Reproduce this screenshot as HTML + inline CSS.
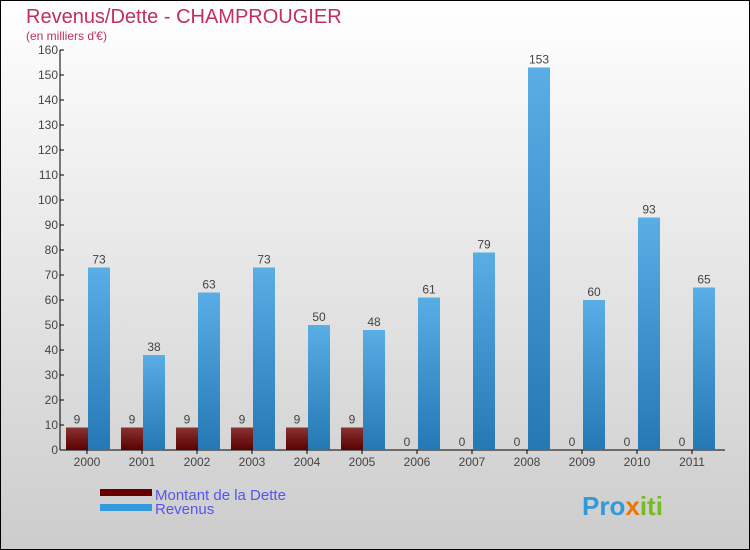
<!DOCTYPE html>
<html><head><meta charset="utf-8"><style>
body{margin:0;}
svg{display:block;font-family:"Liberation Sans",sans-serif;}
</style></head><body>
<svg id="c" width="750" height="550" viewBox="0 0 750 550">
<defs>
<linearGradient id="bg" x1="0" y1="0" x2="0" y2="1"><stop offset="0" stop-color="#ffffff"/><stop offset="1" stop-color="#cccccc"/></linearGradient>
<linearGradient id="gd" x1="0" y1="0" x2="0" y2="1"><stop offset="0" stop-color="#8a3333"/><stop offset="1" stop-color="#5a0000"/></linearGradient>
<linearGradient id="gr" x1="0" y1="0" x2="0" y2="1"><stop offset="0" stop-color="#5aaee6"/><stop offset="1" stop-color="#2478b4"/></linearGradient>
</defs>
<rect x="0.5" y="0.5" width="749" height="549" fill="url(#bg)" stroke="#000"/>
<text x="26" y="23" font-size="20" fill="#c0305a">Revenus/Dette - CHAMPROUGIER</text>
<text x="26" y="40" font-size="12" fill="#c0305a">(en milliers d'€)</text>
<g id="axes"></g>
<g id="bars"></g>
<g>
<rect x="100" y="489" width="52" height="7" fill="#660000"/>
<text x="155" y="500" font-size="15" fill="#5555ee">Montant de la Dette</text>
<rect x="100" y="504" width="52" height="7" fill="#3399dd"/>
<text x="155" y="514" font-size="15" fill="#5555ee">Revenus</text>
</g>
<text x="582" y="515" font-size="26" font-weight="bold" fill="#3399dd">Pro<tspan fill="#ee7700">x</tspan><tspan fill="#77bb22">iti</tspan></text>
</svg>
<script>
const years=["2000","2001","2002","2003","2004","2005","2006","2007","2008","2009","2010","2011"];
const dette=[9,9,9,9,9,9,0,0,0,0,0,0];
const revenus=[73,38,63,73,50,48,61,79,153,60,93,65];
const yTicks=[0,10,20,30,40,50,60,70,80,90,100,110,120,130,140,150,160];
const NS="http://www.w3.org/2000/svg";
const y0=450,y1=50,vmax=160,x0=60,step=55,first=88;
const Y=v=>y0-(v/vmax)*(y0-y1);
const X=i=>first+i*step;
function mk(t,a,p){const e=document.createElementNS(NS,t);for(const k in a)e.setAttribute(k,a[k]);p.appendChild(e);return e;}
const ax=document.getElementById('axes'),bs=document.getElementById('bars');
let l=mk('line',{x1:x0,y1:y1,x2:x0,y2:y0,stroke:'#000'},ax);


l=mk('line',{x1:x0,y1:y0,x2:725,y2:y0,stroke:'#000'},ax);


yTicks.forEach(v=>{
 const t=mk('line',{x1:x0,y1:Y(v),x2:x0+4,y2:Y(v),stroke:'#000'},ax);
 
 
 const tx=mk('text',{x:x0-2,y:Y(v)+4,'font-size':12,'text-anchor':'end',fill:'#444'},ax);
 tx.textContent=v;
 
 
});
years.forEach((yr,i)=>{
 const cx=X(i);
 const t=mk('line',{x1:cx-1,y1:y0,x2:cx-1,y2:y0+4,stroke:'#000'},ax);
 
 
 const tx=mk('text',{x:cx-1,y:y0+16,'font-size':12,'text-anchor':'middle',fill:'#444'},ax);
 tx.textContent=yr;
 
 
 const d=dette[i];
 const b1=mk('rect',{x:cx-22,y:Y(d),width:22,height:Math.max(y0-Y(d),0.01),fill:'url(#gd)'},bs);
 
 
 const l1=mk('text',{x:cx-11,y:Y(d)-4,'font-size':12,'text-anchor':'middle',fill:'#444'},bs);
 l1.textContent=d;
 
 
 const r=revenus[i];
 const b2=mk('rect',{x:cx,y:Y(r),width:22,height:y0-Y(r),fill:'url(#gr)'},bs);
 
 
 const l2=mk('text',{x:cx+11,y:Y(r)-4,'font-size':12,'text-anchor':'middle',fill:'#444'},bs);
 l2.textContent=r;
 
 
});
</script>
</body></html>
